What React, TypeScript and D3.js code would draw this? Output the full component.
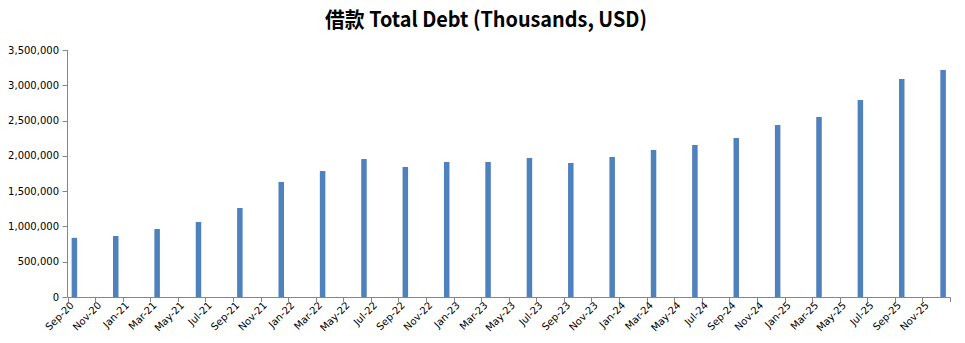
import React from "react";
import * as d3 from "d3";

// Quarter-end dates (year, month 1-12) and total debt values (thousands USD)
const barDates: [number, number][] = [
  [2020, 9], [2020, 12], [2021, 3], [2021, 6], [2021, 9], [2021, 12],
  [2022, 3], [2022, 6], [2022, 9], [2022, 12], [2023, 3], [2023, 6],
  [2023, 9], [2023, 12], [2024, 3], [2024, 6], [2024, 9], [2024, 12],
  [2025, 3], [2025, 6], [2025, 9], [2025, 12],
];
const debtValues: number[] = [
  838000, 864000, 963000, 1063000, 1261000, 1630000,
  1785000, 1955000, 1842000, 1913000, 1913000, 1970000,
  1899000, 1984000, 2083000, 2154000, 2253000, 2437000,
  2551000, 2791000, 3089000, 3217000,
];
const xTickLabels: string[] = [
  "Sep-20", "Nov-20", "Jan-21", "Mar-21", "May-21", "Jul-21", "Sep-21", "Nov-21",
  "Jan-22", "Mar-22", "May-22", "Jul-22", "Sep-22", "Nov-22", "Jan-23", "Mar-23",
  "May-23", "Jul-23", "Sep-23", "Nov-23", "Jan-24", "Mar-24", "May-24", "Jul-24",
  "Sep-24", "Nov-24", "Jan-25", "Mar-25", "May-25", "Jul-25", "Sep-25", "Nov-25",
];
const yTicks: number[] = [0, 500000, 1000000, 1500000, 2000000, 2500000, 3000000, 3500000];
const title = "借款 Total Debt (Thousands, USD)";

const W = 965;
const H = 343;
const startYear = 2020;
const startMonth = 9;
const totalMonths = 64; // Sep-20 .. Jan-26 boundary

const monthIndex = (y: number, m: number) => (y - startYear) * 12 + (m - startMonth);

export default function App() {
  const x = d3.scaleLinear().domain([0, totalMonths]).range([67.5, 950]);
  const y = d3.scaleLinear().domain([0, 3500000]).range([297, 50]);
  const fmt = d3.format(",");
  const barW = 5.5;
  const axisColor = "#868686";
  const tickIdx = d3.range(0, totalMonths + 1, 2);

  return (
    <svg
      width={W}
      height={H}
      style={{ position: "absolute", left: 0, top: 0, background: "#fff" }}
    >
      <text
        x={486}
        y={27}
        textAnchor="middle"
        fontFamily="'Noto Sans CJK SC', sans-serif"
        fontWeight="bold"
        fontSize={21}
        textLength={322}
        lengthAdjust="spacingAndGlyphs"
        fill="#000"
      >
        {title}
      </text>

      {/* y axis */}
      <line x1={67.5} x2={67.5} y1={y(3500000)} y2={y(0)} stroke={axisColor} />
      {yTicks.map((t) => (
        <g key={t}>
          <line x1={62.5} x2={67.5} y1={Math.round(y(t)) + 0.5} y2={Math.round(y(t)) + 0.5} stroke={axisColor} />
          <text
            x={59}
            y={y(t) + 3.5}
            textAnchor="end"
            fontFamily="'DejaVu Sans', Verdana, sans-serif"
            fontSize={10}
            fill="#000"
          >
            {fmt(t)}
          </text>
        </g>
      ))}

      {/* bars */}
      {barDates.map(([yy, mm], i) => {
        const cx = x(monthIndex(yy, mm) + 0.5);
        return (
          <rect
            key={i}
            x={cx - barW / 2}
            y={y(debtValues[i])}
            width={barW}
            height={y(0) - y(debtValues[i])}
            fill="#4F81BD"
          />
        );
      })}

      {/* x axis */}
      <line x1={67.5} x2={950.5} y1={297.5} y2={297.5} stroke={axisColor} />
      {tickIdx.map((k) => (
        <line
          key={k}
          x1={Math.round(x(k)) + 0.5}
          x2={Math.round(x(k)) + 0.5}
          y1={297.5}
          y2={302}
          stroke={axisColor}
        />
      ))}
      {xTickLabels.map((lab, i) => {
        const tx = x(i * 2) + 7;
        const ty = 306;
        return (
          <text
            key={lab}
            x={tx}
            y={ty}
            textAnchor="end"
            transform={`rotate(-45, ${tx}, ${ty})`}
            fontFamily="'DejaVu Sans', Verdana, sans-serif"
            fontSize={10}
            fill="#000"
          >
            {lab}
          </text>
        );
      })}
    </svg>
  );
}
